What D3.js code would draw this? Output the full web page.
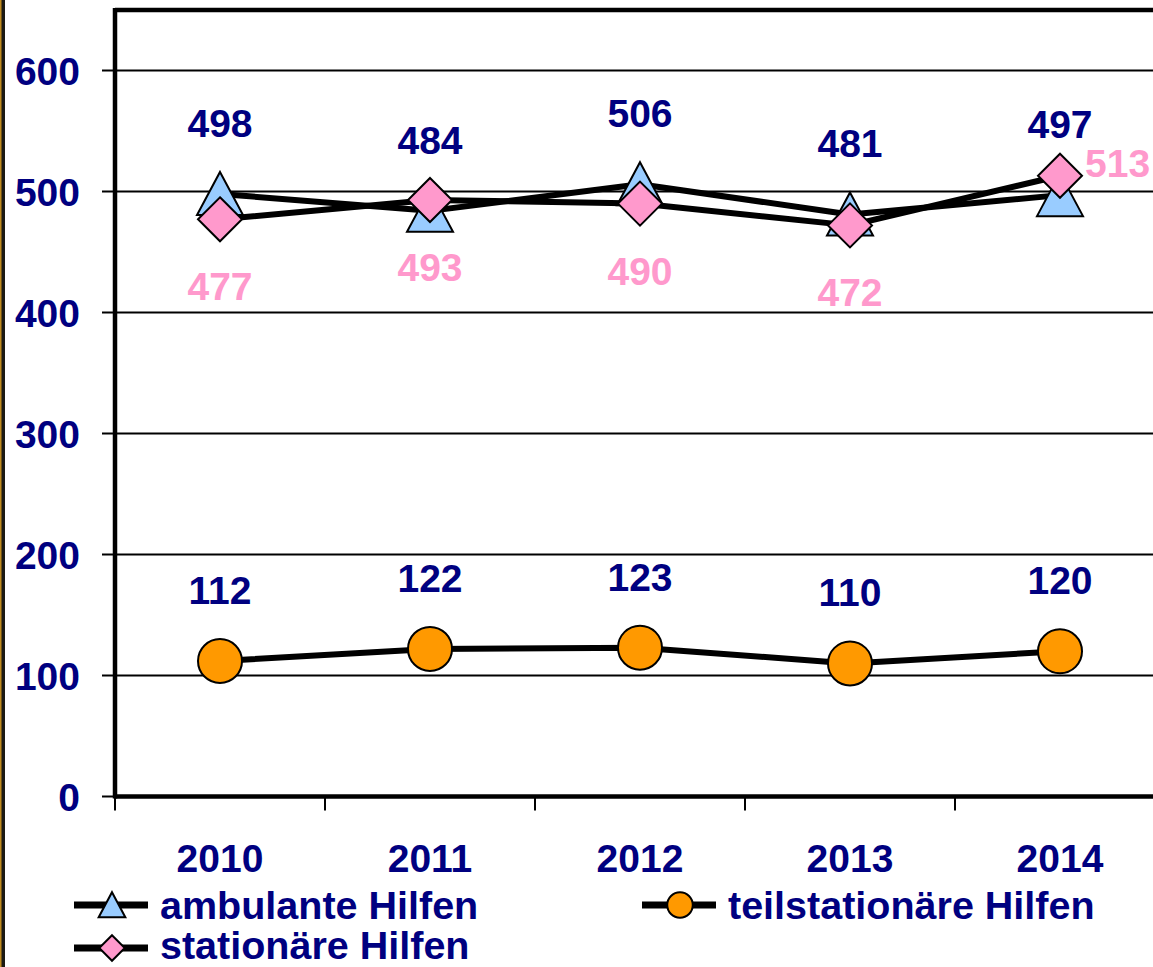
<!DOCTYPE html>
<html>
<head>
<meta charset="utf-8">
<script src="https://cdn.jsdelivr.net/npm/d3@7"></script>
<style>
    body { margin: 0; background: white; }
    svg { display: block; font-family: "Liberation Sans", Arial, sans-serif; font-weight: bold; }
</style>
</head>
<body>
<div id="vis"></div>
<script>
// Data
var years = ["2010", "2011", "2012", "2013", "2014"];
var ambulante = [498, 484, 506, 481, 497];
var teilstationaer = [112, 122, 123, 110, 120];
var stationaer = [477, 493, 490, 472, 513];
var yTicks = [0, 100, 200, 300, 400, 500, 600];
var seriesNames = ["ambulante Hilfen", "teilstationäre Hilfen", "stationäre Hilfen"];

var width = 1153, height = 967;
var navy = "#000080";

var plot = { left: 115, top: 10, bottom: 796.5, step: 210 };

var x = d3.scaleBand()
    .domain(years)
    .range([plot.left, plot.left + plot.step * years.length])
    .padding(0);
var y = d3.scaleLinear().domain([0, 650]).range([plot.bottom, plot.top]);

var svg = d3.select("#vis").append("svg")
    .attr("width", width)
    .attr("height", height);

// left page border
svg.append("rect").attr("x", 0).attr("y", 0).attr("width", 5).attr("height", height).attr("fill", "#1c1a14");
svg.append("rect").attr("x", 0).attr("y", 0).attr("width", 1.5).attr("height", height).attr("fill", "#c08a1e");

// gridlines + y ticks
svg.append("g")
    .selectAll("line")
    .data(yTicks.filter(function(d) { return d > 0; }))
    .join("line")
    .attr("x1", plot.left - 13)
    .attr("x2", width)
    .attr("y1", function(d) { return y(d); })
    .attr("y2", function(d) { return y(d); })
    .attr("stroke", "black")
    .attr("stroke-width", 2);

svg.append("line")
    .attr("x1", plot.left - 13).attr("x2", plot.left)
    .attr("y1", y(0)).attr("y2", y(0))
    .attr("stroke", "black").attr("stroke-width", 2);

svg.append("g")
    .selectAll("text")
    .data(yTicks)
    .join("text")
    .attr("x", 80)
    .attr("y", function(d) { return y(d); })
    .attr("dy", "0.36em")
    .attr("text-anchor", "end")
    .attr("fill", navy)
    .attr("font-size", 39)
    .text(function(d) { return d; });

// x ticks (category boundaries)
svg.append("g")
    .selectAll("line")
    .data(years)
    .join("line")
    .attr("x1", function(d) { return x(d); })
    .attr("x2", function(d) { return x(d); })
    .attr("y1", plot.bottom)
    .attr("y2", plot.bottom + 14)
    .attr("stroke", "black")
    .attr("stroke-width", 2);

svg.append("g")
    .selectAll("text")
    .data(years)
    .join("text")
    .attr("x", function(d) { return x(d) + x.bandwidth() / 2; })
    .attr("y", 872)
    .attr("text-anchor", "middle")
    .attr("fill", navy)
    .attr("font-size", 39)
    .text(function(d) { return d; });

// plot frame: left, top, bottom
svg.append("line").attr("x1", plot.left).attr("x2", plot.left).attr("y1", plot.top - 2).attr("y2", plot.bottom + 2)
    .attr("stroke", "black").attr("stroke-width", 4.5);
svg.append("line").attr("x1", plot.left).attr("x2", width).attr("y1", plot.top).attr("y2", plot.top)
    .attr("stroke", "black").attr("stroke-width", 4.5);
svg.append("line").attr("x1", plot.left).attr("x2", width).attr("y1", plot.bottom).attr("y2", plot.bottom)
    .attr("stroke", "black").attr("stroke-width", 4.5);

function cx(i) { return x(years[i]) + x.bandwidth() / 2; }

var triangle = function(s) { return "M0," + (-22 * s) + "L" + (23 * s) + "," + (21 * s) + "L" + (-23 * s) + "," + (21 * s) + "Z"; };
var diamond = function(s) { return "M0," + (-22 * s) + "L" + (22 * s) + ",0L0," + (22 * s) + "L" + (-22 * s) + ",0Z"; };
var circle = function(s) { var r = 22 * s; return "M" + r + ",0A" + r + "," + r + " 0 1,1 " + (-r) + ",0A" + r + "," + r + " 0 1,1 " + r + ",0Z"; };

var series = [
    { name: seriesNames[0], values: ambulante, shape: triangle, fill: "#99CCFF", labelColor: navy, labelPos: "above" },
    { name: seriesNames[1], values: teilstationaer, shape: circle, fill: "#FF9900", labelColor: navy, labelPos: "above" },
    { name: seriesNames[2], values: stationaer, shape: diamond, fill: "#FF99CC", labelColor: "#FF99CC", labelPos: "below" }
];

var line = d3.line()
    .x(function(d, i) { return cx(i); })
    .y(function(d) { return y(d); });

series.forEach(function(s) {
    var g = svg.append("g");
    g.append("path")
        .attr("d", line(s.values))
        .attr("fill", "none")
        .attr("stroke", "black")
        .attr("stroke-width", 6)
        .attr("stroke-linejoin", "round");
    g.selectAll("path.mk")
        .data(s.values)
        .join("path")
        .attr("class", "mk")
        .attr("transform", function(d, i) { return "translate(" + cx(i) + "," + y(d) + ")"; })
        .attr("d", s.shape(1))
        .attr("fill", s.fill)
        .attr("stroke", "black")
        .attr("stroke-width", 2);
});

// data labels
series.forEach(function(s) {
    svg.append("g")
        .selectAll("text")
        .data(s.values)
        .join("text")
        .attr("x", function(d, i) {
            if (s.labelPos === "below" && i === years.length - 1) return cx(i) + 25;
            return cx(i);
        })
        .attr("y", function(d, i) {
            if (s.labelPos === "below" && i === years.length - 1) return y(d) + 1;
            return s.labelPos === "above" ? y(d) - 57 : y(d) + 81;
        })
        .attr("text-anchor", function(d, i) {
            return (s.labelPos === "below" && i === years.length - 1) ? "start" : "middle";
        })
        .attr("fill", s.labelColor)
        .attr("font-size", 39)
        .text(function(d) { return d; });
});

// legend
var legendItems = [
    { s: series[0], x: 74, y: 905, textY: 919 },
    { s: series[1], x: 642, y: 905, textY: 919 },
    { s: series[2], x: 74, y: 948, textY: 959 }
];

legendItems.forEach(function(item) {
    var g = svg.append("g");
    g.append("line")
        .attr("x1", item.x).attr("x2", item.x + 74)
        .attr("y1", item.y).attr("y2", item.y)
        .attr("stroke", "black").attr("stroke-width", 7);
    g.append("path")
        .attr("transform", "translate(" + (item.x + 38) + "," + item.y + ")")
        .attr("d", item.s.shape(0.58))
        .attr("fill", item.s.fill)
        .attr("stroke", "black")
        .attr("stroke-width", 2);
    g.append("text")
        .attr("x", item.x + 86)
        .attr("y", item.textY)
        .attr("fill", navy)
        .attr("font-size", 39.5)
        .text(item.s.name);
});
</script>
</body>
</html>
